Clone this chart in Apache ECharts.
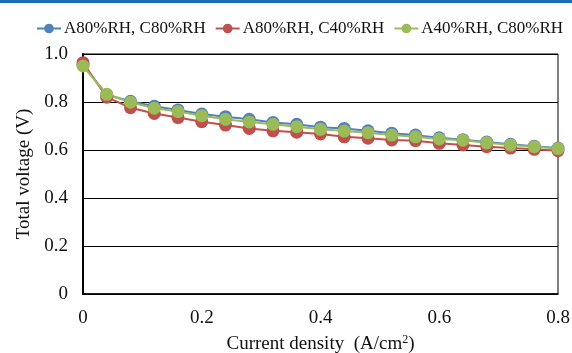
<!DOCTYPE html>
<html>
<head>
<meta charset="utf-8">
<script src="https://cdn.jsdelivr.net/npm/echarts@6/dist/echarts.min.js"></script>
<style>
  html, body { margin: 0; padding: 0; background: #fff; }
  #chart { width: 572px; height: 353px; }
</style>
</head>
<body>
<div id="chart"></div>
<script>
  // current density (A/cm2)
  const currentDensity = [0, 0.04, 0.08, 0.12, 0.16, 0.2, 0.24, 0.28, 0.32, 0.36, 0.4,
    0.44, 0.48, 0.52, 0.56, 0.6, 0.64, 0.68, 0.72, 0.76, 0.8];

  const seriesNames = ['A80%RH, C80%RH', 'A80%RH, C40%RH', 'A40%RH, C80%RH'];

  // total voltage (V)
  const voltA80C80 = [0.955, 0.83, 0.803, 0.782, 0.767, 0.75, 0.739, 0.728, 0.715, 0.707, 0.695,
    0.69, 0.68, 0.67, 0.662, 0.651, 0.643, 0.633, 0.624, 0.616, 0.608];
  const voltA80C40 = [0.964, 0.82, 0.776, 0.752, 0.735, 0.718, 0.704, 0.69, 0.68, 0.674, 0.667,
    0.655, 0.649, 0.642, 0.639, 0.628, 0.621, 0.614, 0.608, 0.603, 0.597];
  const voltA40C80 = [0.95, 0.832, 0.799, 0.774, 0.76, 0.743, 0.728, 0.717, 0.707, 0.697, 0.686,
    0.679, 0.672, 0.662, 0.655, 0.646, 0.641, 0.63, 0.621, 0.614, 0.606];

  const colors = ['#4f81bd', '#c0504d', '#9bbb59'];
  const serif = '"Liberation Serif", "Times New Roman", serif';

  const pairs = (ys) => currentDensity.map((x, i) => [x, ys[i]]);
  const fmt = (v) => (v === 0 ? '0' : v.toFixed(1));

  const chart = echarts.init(document.getElementById('chart'));
  chart.setOption({
    animation: false,
    color: colors,
    textStyle: { fontFamily: serif },
    graphic: [
      { type: 'rect', left: 0, top: 0, shape: { width: 572, height: 3 }, style: { fill: '#1c6db7' } }
    ],
    legend: {
      top: 15,
      left: 31,
      width: 541,
      itemWidth: 24,
      itemHeight: 12,
      itemGap: 9,
      textStyle: { fontFamily: serif, fontSize: 17, color: '#111', padding: [0, 0, 0, -2] },
      data: seriesNames
    },
    grid: {
      left: 83, right: 14, top: 54, bottom: 59,
      outerBoundsMode: 'none',
      show: true, borderColor: '#000', borderWidth: 1
    },
    xAxis: {
      type: 'value',
      min: 0,
      max: 0.8,
      interval: 0.2,
      name: 'Current density  (A/cm{sup|2})',
      nameLocation: 'middle',
      nameGap: 40,
      nameTextStyle: {
        fontFamily: serif, fontSize: 19, color: '#111',
        rich: { sup: { fontFamily: serif, fontSize: 12, color: '#111', verticalAlign: 'top', padding: [0, 0, 8, 0] } }
      },
      axisLine: { show: true, lineStyle: { color: '#000', width: 1.5 } },
      axisTick: { show: false },
      splitLine: { show: false },
      axisLabel: { fontFamily: serif, fontSize: 19, color: '#111', margin: 15, formatter: fmt }
    },
    yAxis: {
      type: 'value',
      min: 0,
      max: 1,
      interval: 0.2,
      name: 'Total voltage (V)',
      nameLocation: 'middle',
      nameGap: 48,
      nameTextStyle: { fontFamily: serif, fontSize: 19, color: '#111' },
      axisLine: { show: true, lineStyle: { color: '#000', width: 2 } },
      axisTick: { show: false },
      splitLine: { show: true, lineStyle: { color: '#000', width: 1 } },
      axisLabel: { fontFamily: serif, fontSize: 19, color: '#111', margin: 15, formatter: fmt }
    },
    series: [voltA80C80, voltA80C40, voltA40C80].map((ys, i) => ({
      name: seriesNames[i],
      type: 'line',
      data: pairs(ys),
      symbol: 'circle',
      symbolSize: 13,
      showSymbol: true,
      lineStyle: { width: 2, color: colors[i] },
      itemStyle: { color: colors[i] }
    }))
  });
</script>
</body>
</html>
